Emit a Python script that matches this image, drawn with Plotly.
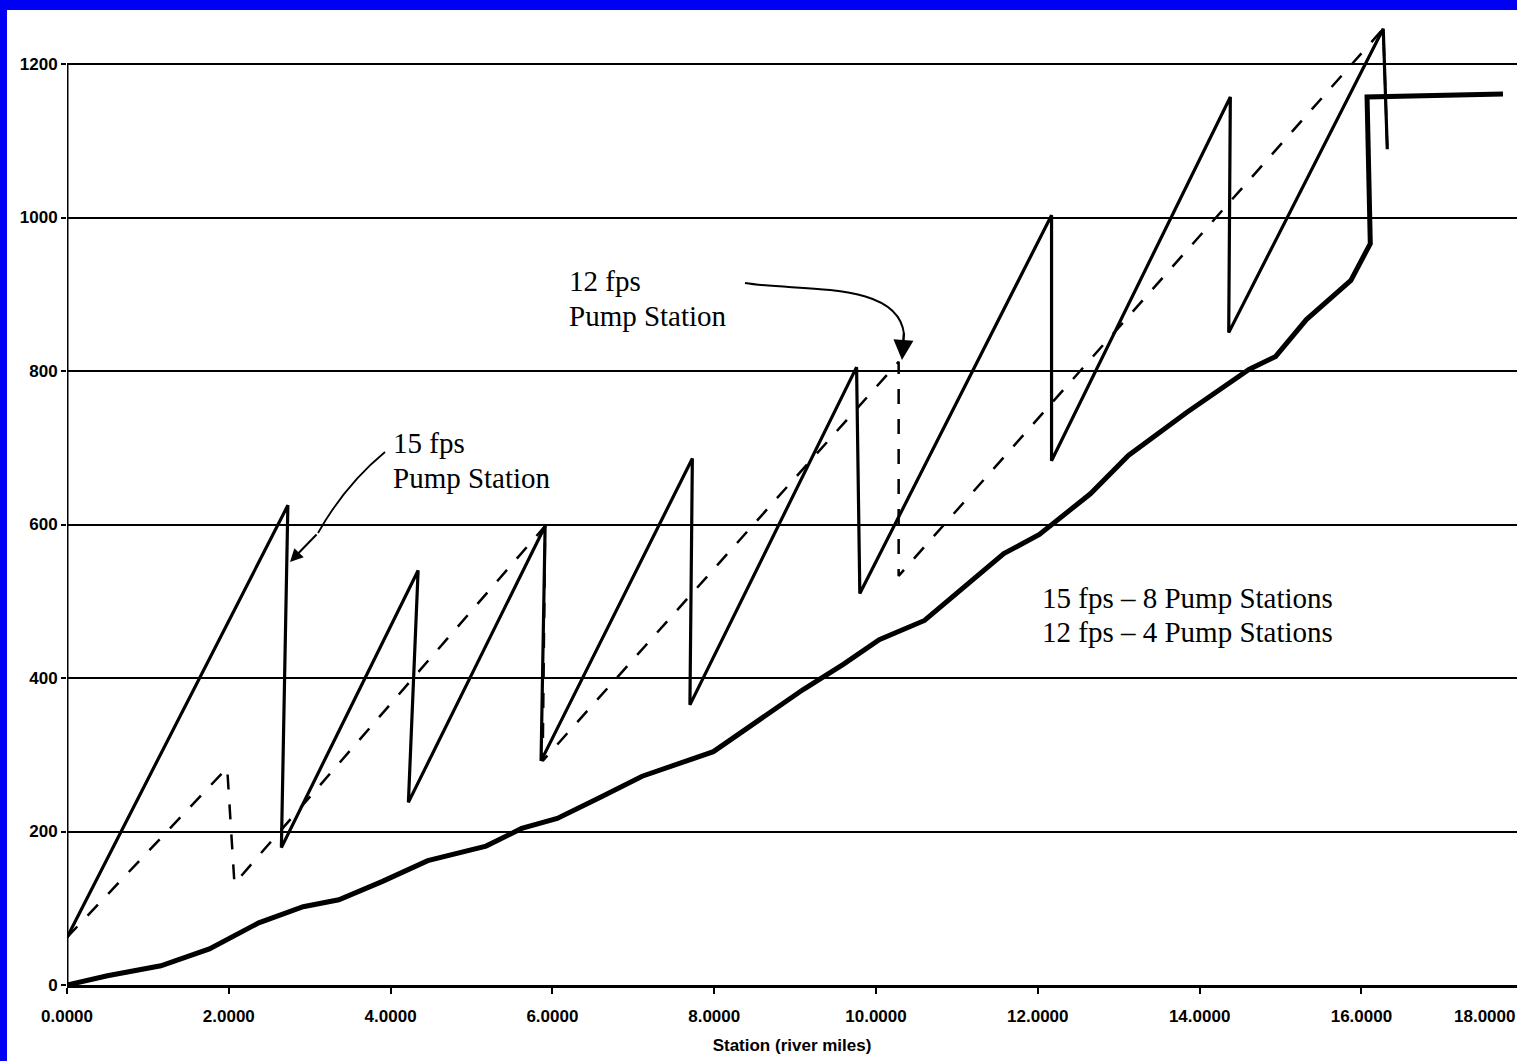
import plotly.graph_objects as go

# ---------------- data ----------------
ground_x = [0, 0.5, 1.16, 1.76, 2.37, 2.92, 3.36, 3.9, 4.46, 5.18, 5.62, 6.06, 6.6, 7.11,
            7.99, 8.54, 9.1, 9.6, 10.04, 10.6, 11.0, 11.58, 12.02, 12.65, 13.12, 13.84,
            14.61, 14.94, 15.32, 15.87, 16.11, 16.07, 17.75]
ground_y = [0, 12, 25, 47, 81, 102, 111, 135, 162, 181, 204, 217, 245, 272,
            304, 345, 385, 418, 450, 475, 510, 562, 587, 640, 690, 746,
            802, 819, 867, 918, 966, 1157, 1161]

fps15_x = [0, 2.73, 2.65, 4.34, 4.22, 5.91, 5.86, 7.73, 7.70, 9.76, 9.80,
           12.17, 12.17, 14.38, 14.36, 16.27, 16.32]
fps15_y = [62, 625, 179, 540, 238, 598, 292, 686, 365, 805, 510,
           1003, 683, 1157, 850, 1246, 1089]

fps12_x = [0, 1.98, 2.07, 5.91, 5.88, 10.28, 10.28, 16.27, 16.32]
fps12_y = [62, 283, 132, 598, 292, 812, 533, 1246, 1089]

y_ticks = [0, 200, 400, 600, 800, 1000, 1200]
x_ticks = [0, 2, 4, 6, 8, 10, 12, 14, 16]

# ---------------- geometry ----------------
W, H = 1517, 1061
L, R, T, B = 67, 1517, 12, 985
PX_PER_X = 80.9
PX_PER_Y = 0.7675
x_max = (R - L) / PX_PER_X
y_max = (B - T) / PX_PER_Y


def dx(px):
    return (px - L) / PX_PER_X


def dy(py):
    return (B - py) / PX_PER_Y


def P(px, py):
    return f"{dx(px):.4f},{dy(py):.2f}"


def paper_x(px):
    return (px - L) / (R - L)


def paper_y(py):
    return (B - py) / (B - T)


fig = go.Figure()
fig.add_trace(go.Scatter(x=ground_x, y=ground_y, mode="lines",
                         line=dict(color="black", width=5), showlegend=False))
fig.add_trace(go.Scatter(x=fps12_x, y=fps12_y, mode="lines",
                         line=dict(color="black", width=2.5, dash="longdash"), showlegend=False))
fig.add_trace(go.Scatter(x=fps15_x, y=fps15_y, mode="lines",
                         line=dict(color="black", width=3.2), showlegend=False))

serif = dict(family="Liberation Serif, Times New Roman, serif", size=29, color="black")
texts = [
    ("15 fps", 391, 443), ("Pump Station", 391, 478),
    ("12 fps", 567, 281), ("Pump Station", 567, 316),
    ("15 fps \u2013 8 Pump Stations", 1040, 598), ("12 fps \u2013 4 Pump Stations", 1040, 632),
]
annotations = []
for t, px, py in texts:
    annotations.append(dict(text=t, x=dx(px), y=dy(py), xref="x", yref="y",
                            xanchor="left", yanchor="middle", showarrow=False, font=serif))

# arrows
annotations.append(dict(text="", x=dx(290), y=dy(562), xref="x", yref="y",
                        ax=28, ay=-29, showarrow=True, arrowhead=2, arrowsize=1.3,
                        arrowwidth=2, arrowcolor="black"))
annotations.append(dict(text="", x=dx(902), y=dy(360), xref="x", yref="y",
                        ax=2, ay=-28, showarrow=True, arrowhead=2, arrowsize=1.6,
                        arrowwidth=2.5, arrowcolor="black"))
# 18.0000 tick label at the right edge (cut off in the original scan)
annotations.append(dict(text="<b>18.0000</b>", x=1.0, y=0,
                        xref="paper", yref="paper", xanchor="right", yanchor="top",
                        yshift=-20, showarrow=False,
                        font=dict(family="Liberation Sans, Arial", size=17, color="black")))

shapes = [
    # y axis line (stops at the top gridline like the original)
    dict(type="line", xref="x", yref="y", x0=0, x1=0, y0=0, y1=1200,
         line=dict(color="black", width=3)),
    dict(type="path", xref="x", yref="y",
         path=f"M {P(385,452)} Q {P(345,485)} {P(318,533)}",
         line=dict(color="black", width=1.8)),
    dict(type="path", xref="x", yref="y",
         path=f"M {P(745,283)} C {P(800,292)} {P(898,280)} {P(904,334)}",
         line=dict(color="black", width=2)),
    # blue scan border (top and left)
    dict(type="rect", xref="paper", yref="paper", layer="above",
         x0=paper_x(0), x1=paper_x(W + 2), y0=paper_y(10), y1=paper_y(-2),
         fillcolor="#0000f2", line=dict(width=0)),
    dict(type="rect", xref="paper", yref="paper", layer="above",
         x0=paper_x(-2), x1=paper_x(7), y0=paper_y(H + 2), y1=paper_y(-2),
         fillcolor="#0000f2", line=dict(width=0)),
]

tickfont = dict(family="Liberation Sans, Arial", size=17, color="black", weight="bold")

fig.update_layout(
    width=W, height=H,
    margin=dict(l=L, r=W - R, t=T, b=H - B, pad=0),
    paper_bgcolor="white", plot_bgcolor="white",
    annotations=annotations, shapes=shapes,
    xaxis=dict(range=[0, x_max], tickvals=x_ticks, tickformat=".4f",
               showgrid=False, zeroline=False, showline=True, linecolor="black", linewidth=3,
               ticks="outside", ticklen=6, tickwidth=1.5, tickcolor="black",
               tickfont=tickfont, ticklabelstandoff=8,
               title=dict(text="<b>Station (river miles)</b>", standoff=14,
                          font=dict(family="Liberation Sans, Arial", size=17, color="black"))),
    yaxis=dict(range=[0, y_max], tickvals=y_ticks,
               showgrid=True, gridcolor="black", gridwidth=1.6,
               zeroline=False, showline=False,
               ticks="outside", ticklen=5, tickwidth=1.5, tickcolor="black",
               tickfont=tickfont),
)

fig.write_html("out.html", config={"displayModeBar": False},
               post_script="document.body.style.margin='0';document.body.style.overflow='hidden';")
